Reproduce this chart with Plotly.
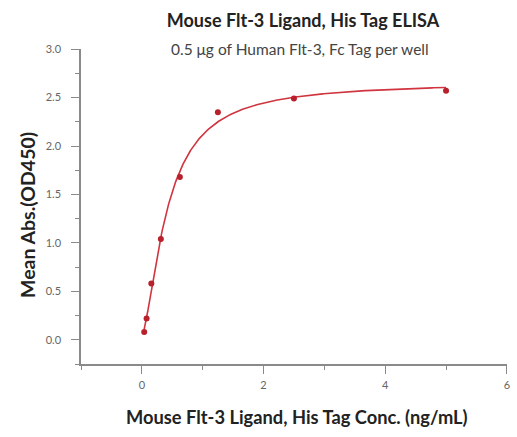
import numpy as np
import plotly.graph_objects as go

# Data
conc = [5.0, 2.5, 1.25, 0.625, 0.3125, 0.156, 0.078, 0.039]
od450 = [2.57, 2.49, 2.35, 1.68, 1.04, 0.58, 0.22, 0.08]

x_ticks = [0, 2, 4, 6]
y_ticks = [0.0, 0.5, 1.0, 1.5, 2.0, 2.5, 3.0]

# 4-parameter logistic fit of the points (grid over c, b; linear solve for a, d)
xa = np.array(conc)
ya = np.array(od450)
best = None
for c in np.linspace(0.2, 3.0, 141):
    for b in np.linspace(0.5, 3.0, 126):
        g = 1.0 / (1.0 + (xa / c) ** b)
        A = np.vstack([g, 1 - g]).T
        coef, *_ = np.linalg.lstsq(A, ya, rcond=None)
        r = np.sum((A @ coef - ya) ** 2)
        if best is None or r < best[0]:
            best = (r, c, b, coef)
_, c_fit, b_fit, (a_fit, d_fit) = best
xf = np.linspace(min(conc), max(conc), 400)
gf = 1.0 / (1.0 + (xf / c_fit) ** b_fit)
yf = a_fit * gf + d_fit * (1 - gf)

W, H = 517, 437
ML, MR, MT, MB = 81, 10, 49, 73

fig = go.Figure()
fig.add_trace(go.Scatter(x=xf, y=yf, mode="lines",
                         line=dict(color="#d0343f", width=1.6),
                         hoverinfo="skip", showlegend=False))
fig.add_trace(go.Scatter(x=conc, y=od450, mode="markers",
                         marker=dict(color="#b8202c", size=6, symbol="circle"),
                         showlegend=False))

font_family = "Lato, Open Sans, sans-serif"
axis_common = dict(showgrid=False, zeroline=False, showline=True, automargin=False,
                   linecolor="#8a8a8a", linewidth=1.5,
                   ticks="outside", ticklen=8, tickwidth=1.2, tickcolor="#8a8a8a",
                   tickfont=dict(size=11, color="#666666", family=font_family))
minor_common = dict(ticks="outside", ticklen=4, tickwidth=1.2, tickcolor="#8a8a8a")

ph = H - MT - MB
pw = W - ML - MR

fig.update_layout(
    width=W, height=H,
    margin=dict(l=ML, r=MR, t=MT, b=MB),
    paper_bgcolor="white", plot_bgcolor="white",
    font=dict(family=font_family),
    title=dict(text="<b>Mouse Flt-3 Ligand, His Tag ELISA</b>",
               x=303 / W, xanchor="center", y=1 - 21 / H, yanchor="middle",
               font=dict(size=18, color="#222222", family=font_family)),
    annotations=[
        dict(text="0.5 μg of Human Flt-3, Fc Tag per well",
             xref="paper", yref="paper", x=(300 - ML) / pw, y=1.0,
             xanchor="center", yanchor="middle", showarrow=False,
             font=dict(size=15.5, color="#444444", family=font_family)),
        dict(text="<b>Mouse Flt-3 Ligand, His Tag Conc. (ng/mL)</b>",
             xref="paper", yref="paper", x=(297 - ML) / pw, y=-(417 - (H - MB)) / ph,
             xanchor="center", yanchor="middle", showarrow=False,
             font=dict(size=18.3, color="#222222", family=font_family)),
        dict(text="<b>Mean Abs.(OD450)</b>", textangle=-90,
             xref="paper", yref="paper", x=-(ML - 27) / pw, y=1 - (215 - MT) / ph,
             xanchor="center", yanchor="middle", showarrow=False,
             font=dict(size=19.5, color="#222222", family=font_family)),
    ],
    xaxis=dict(range=[-1, 6.002], tickvals=x_ticks, ticktext=[str(t) for t in x_ticks],
               minor=dict(dtick=1, **minor_common), ticklabelstandoff=2,
               **axis_common),
    yaxis=dict(range=[-0.25, 3.002], tickvals=y_ticks,
               ticktext=[f"{t:.1f}" for t in y_ticks],
               minor=dict(dtick=0.25, tick0=0, **minor_common), ticklabelstandoff=8,
               **axis_common),
)

fig.write_html("out.html", config={"displayModeBar": False})
with open("out.html", encoding="utf-8") as f:
    html = f.read()
html = html.replace("<body>", '<body style="margin:0;padding:0;overflow:hidden">', 1)
with open("out.html", "w", encoding="utf-8") as f:
    f.write(html)
